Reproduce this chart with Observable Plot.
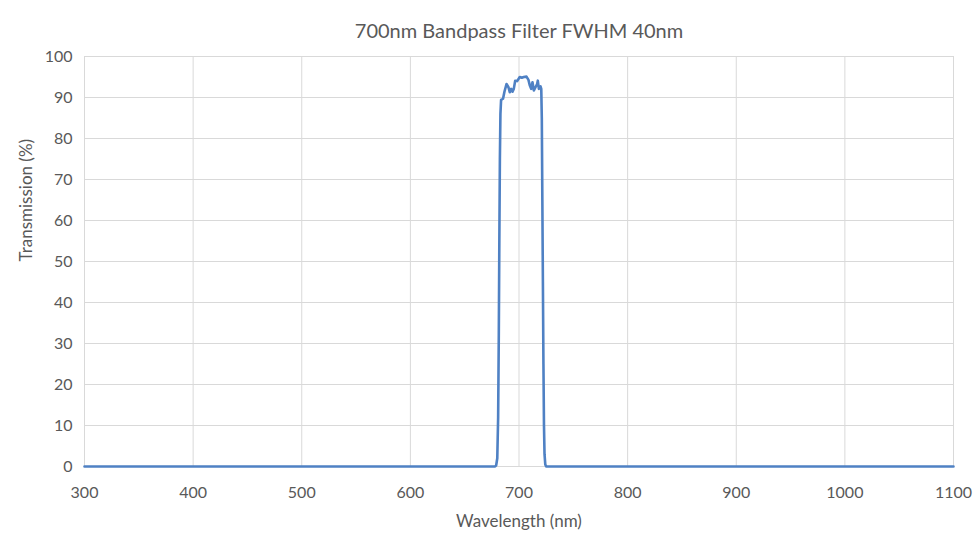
<!DOCTYPE html>
<html>
<head>
<meta charset="utf-8">
<script src="https://cdn.jsdelivr.net/npm/d3@7"></script>
<script src="https://cdn.jsdelivr.net/npm/@observablehq/plot@0.6"></script>
<style>
  html, body { margin: 0; padding: 0; background: #fff; }
</style>
</head>
<body>
<div id="chart"></div>
<script>
const title = "700nm Bandpass Filter FWHM 40nm";
const xLabel = "Wavelength (nm)";
const yLabel = "Transmission (%)";
const xTicks = [300, 400, 500, 600, 700, 800, 900, 1000, 1100];
const yTicks = [0, 10, 20, 30, 40, 50, 60, 70, 80, 90, 100];

const wavelength = [300, 400, 500, 600, 678, 679, 680, 680.8, 681.4, 681.9, 682.4, 682.9, 683.5,
  685.3, 686.6, 688.5, 690.3, 691.5, 692.8, 694, 695.2, 696.5, 698.3, 700.7, 702.6, 704.4, 706.9,
  708.7, 710, 711.2, 712.4, 713.7, 715.2, 716.7, 717.3, 718.3, 719.8, 720.5, 721, 721.5, 722,
  722.5, 723, 723.5, 724.2, 725, 800, 900, 1000, 1100];
const transmission = [0, 0, 0, 0, 0, 0.3, 2, 12, 32, 55, 75, 86, 89.4,
  89.7, 91.4, 93.3, 92.5, 91.3, 92.1, 91.4, 92.1, 94.1, 94.0, 95.0, 94.8, 95.0, 95.1,
  94.3, 92.9, 92.1, 93.7, 91.7, 92.5, 93.3, 94.1, 92.1, 92.7, 92.1, 85, 65, 45,
  25, 10, 3, 0.5, 0, 0, 0, 0, 0];

const data = wavelength.map((w, i) => ({w, t: transmission[i]}));

const font = "Lato, 'Open Sans', sans-serif";
const gray = "#595959";

const chart = Plot.plot({
  width: 976,
  height: 542,
  marginLeft: 84,
  marginRight: 23,
  marginTop: 56,
  marginBottom: 76,
  style: {fontFamily: font, fontSize: "16px", color: gray, background: "#fff"},
  x: {domain: [300, 1100], ticks: xTicks, label: null},
  y: {domain: [0, 100], ticks: yTicks, label: null},
  marks: [
    Plot.gridX(xTicks, {stroke: "#d9d9d9", strokeOpacity: 1, strokeWidth: 1}),
    Plot.gridY(yTicks, {stroke: "#d9d9d9", strokeOpacity: 1, strokeWidth: 1}),
    Plot.axisX(xTicks, {tickSize: 0, tickPadding: 20, fill: gray, fontSize: 16, tickFormat: d => String(d)}),
    Plot.axisY(yTicks, {tickSize: 0, tickPadding: 12, fill: gray, fontSize: 16, tickFormat: d => String(d)}),
    Plot.line(data, {x: "w", y: "t", stroke: "#4f81c4", strokeWidth: 2.6, curve: "linear"}),
    Plot.text([title], {frameAnchor: "top", dy: -33, fontSize: 20, fill: gray}),
    Plot.text([xLabel], {frameAnchor: "bottom", dy: 60, fontSize: 17, fill: gray}),
    Plot.text([yLabel], {frameAnchor: "left", dx: -58, rotate: -90, fontSize: 17, fill: gray})
  ]
});
document.getElementById("chart").appendChild(chart);
</script>
</body>
</html>
